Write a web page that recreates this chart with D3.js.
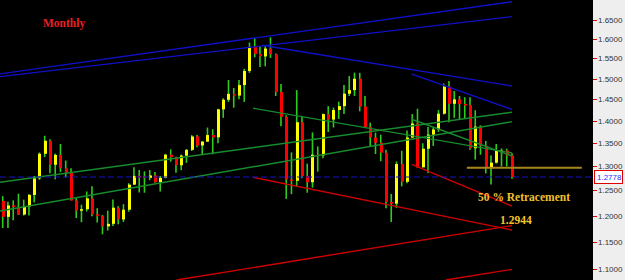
<!DOCTYPE html>
<html>
<head>
<meta charset="utf-8">
<script src="https://d3js.org/d3.v7.min.js"></script>
<style>
  html, body { margin: 0; padding: 0; background: #000; overflow: hidden; }
  #chart { width: 625px; height: 280px; }
</style>
</head>
<body>
<div id="chart"></div>
<script>
// EUR/USD monthly, Apr 2004 .. May 2012
var months = ["2004-04","2004-05","2004-06","2004-07","2004-08","2004-09","2004-10","2004-11","2004-12",
  "2005-01","2005-02","2005-03","2005-04","2005-05","2005-06","2005-07","2005-08","2005-09","2005-10","2005-11","2005-12",
  "2006-01","2006-02","2006-03","2006-04","2006-05","2006-06","2006-07","2006-08","2006-09","2006-10","2006-11","2006-12",
  "2007-01","2007-02","2007-03","2007-04","2007-05","2007-06","2007-07","2007-08","2007-09","2007-10","2007-11","2007-12",
  "2008-01","2008-02","2008-03","2008-04","2008-05","2008-06","2008-07","2008-08","2008-09","2008-10","2008-11","2008-12",
  "2009-01","2009-02","2009-03","2009-04","2009-05","2009-06","2009-07","2009-08","2009-09","2009-10","2009-11","2009-12",
  "2010-01","2010-02","2010-03","2010-04","2010-05","2010-06","2010-07","2010-08","2010-09","2010-10","2010-11","2010-12",
  "2011-01","2011-02","2011-03","2011-04","2011-05","2011-06","2011-07","2011-08","2011-09","2011-10","2011-11","2011-12",
  "2012-01","2012-02","2012-03","2012-04","2012-05"];

var open = [1.2290,1.1975,1.2200,1.2170,1.2020,1.2180,1.2410,1.2750,1.3270,
  1.3555,1.3035,1.3245,1.2960,1.2865,1.2300,1.2095,1.2125,1.2340,1.2025,1.1995,1.1790,
  1.1840,1.2155,1.1925,1.2115,1.2620,1.2800,1.2790,1.2760,1.2810,1.2670,1.2760,1.3250,
  1.3200,1.3025,1.3230,1.3355,1.3650,1.3450,1.3535,1.3680,1.3630,1.4265,1.4490,1.4630,
  1.4590,1.4840,1.5185,1.5790,1.5615,1.5550,1.5750,1.5605,1.4670,1.4095,1.2725,1.2700,
  1.3970,1.2800,1.2670,1.3250,1.3235,1.4155,1.4030,1.4250,1.4340,1.4635,1.4720,1.4995,
  1.4330,1.3865,1.3625,1.3510,1.3295,1.2270,1.2235,1.3050,1.2680,1.3625,1.3940,1.2980,
  1.3380,1.3690,1.3805,1.4165,1.4805,1.4395,1.4500,1.4390,1.4370,1.3390,1.3870,1.3445,
  1.2960,1.3080,1.3340,1.3340,1.3235];

var high = [1.2385,1.2275,1.2300,1.2435,1.2315,1.2430,1.2800,1.3300,1.3665,
  1.3590,1.3275,1.3485,1.3125,1.2960,1.2345,1.2215,1.2480,1.2585,1.2145,1.2010,1.2095,
  1.2320,1.2185,1.2225,1.2650,1.2980,1.2925,1.2895,1.2925,1.2880,1.2800,1.3270,1.3365,
  1.3205,1.3255,1.3370,1.3680,1.3680,1.3550,1.3850,1.3810,1.4280,1.4525,1.4965,1.4770,
  1.4965,1.5240,1.5905,1.6020,1.5810,1.5840,1.6040,1.5625,1.4865,1.4130,1.3300,1.4720,
  1.4090,1.3060,1.3740,1.3430,1.4170,1.4340,1.4305,1.4445,1.4845,1.5060,1.5145,1.5140,
  1.4580,1.3960,1.3735,1.3690,1.3355,1.2430,1.3105,1.3335,1.3785,1.4155,1.4280,1.3500,
  1.3860,1.3860,1.4250,1.4880,1.4940,1.4700,1.4580,1.4550,1.4550,1.4245,1.3900,1.3550,
  1.3235,1.3485,1.3385,1.3380,1.3280];

var low = [1.1760,1.1760,1.1910,1.2010,1.2000,1.2000,1.2260,1.2720,1.3200,
  1.2855,1.2730,1.2880,1.2770,1.2300,1.1950,1.1870,1.2080,1.1985,1.1865,1.1640,1.1710,
  1.1800,1.1830,1.1875,1.2075,1.2620,1.2460,1.2455,1.2710,1.2660,1.2480,1.2750,1.3100,
  1.2865,1.2920,1.3075,1.3330,1.3410,1.3260,1.3530,1.3260,1.3500,1.4070,1.4440,1.4305,
  1.4505,1.4440,1.5140,1.5530,1.5285,1.5300,1.5510,1.4580,1.3880,1.2330,1.2425,1.2580,
  1.2750,1.2455,1.2560,1.2890,1.3175,1.3750,1.3850,1.4045,1.4160,1.4580,1.4580,1.4220,
  1.3860,1.3435,1.3265,1.3110,1.2145,1.1875,1.2150,1.2585,1.2650,1.3625,1.2970,1.2980,
  1.2860,1.3440,1.3750,1.4145,1.3970,1.4070,1.4040,1.4050,1.3360,1.3145,1.3250,1.2855,
  1.2625,1.3060,1.3000,1.3000,1.2740];

var close = [1.1975,1.2200,1.2170,1.2020,1.2180,1.2410,1.2750,1.3270,1.3555,
  1.3035,1.3245,1.2960,1.2865,1.2300,1.2095,1.2125,1.2340,1.2025,1.1995,1.1790,1.1840,
  1.2155,1.1925,1.2115,1.2620,1.2800,1.2790,1.2760,1.2810,1.2670,1.2760,1.3250,1.3200,
  1.3025,1.3230,1.3355,1.3650,1.3450,1.3535,1.3680,1.3630,1.4265,1.4490,1.4630,1.4590,
  1.4840,1.5185,1.5790,1.5615,1.5550,1.5750,1.5605,1.4670,1.4095,1.2725,1.2700,1.3970,
  1.2800,1.2670,1.3250,1.3235,1.4155,1.4030,1.4250,1.4340,1.4635,1.4720,1.4995,1.4330,
  1.3865,1.3625,1.3510,1.3295,1.2270,1.2235,1.3050,1.2680,1.3625,1.3940,1.2980,1.3380,
  1.3690,1.3805,1.4165,1.4805,1.4395,1.4500,1.4390,1.4370,1.3390,1.3870,1.3445,1.2960,
  1.3080,1.3340,1.3340,1.3235,1.2778];

var priceTicks = [1.10,1.15,1.20,1.25,1.30,1.35,1.40,1.45,1.50,1.55,1.60,1.65];
var lastPrice = 1.2778;
var levelPrice = 1.2973;

// trend lines drawn on the chart: [bar index, price] pairs
var blueLines = [
  [[-0.6, 1.5112], [97, 1.6998]],
  [[-0.6, 1.5045], [97, 1.6590]],
  [[49.4, 1.5834], [97, 1.4819]],
  [[77.8, 1.5112], [97, 1.4262]]
];
var greenLines = [
  [[-0.6, 1.2668], [97, 1.4198]],
  [[-0.6, 1.2089], [97, 1.3982]],
  [[47.7, 1.4291], [97, 1.3287]],
  [[77.9, 1.4037], [97, 1.3222]]
];
var redLines = [
  [[47.7, 1.2771], [97, 1.1721]],
  [[77.9, 1.3045], [96.95, 1.2188]],
  [[33.1, 1.0804], [97, 1.1807]],
  [[84.4, 1.0804], [97, 1.0994]]
];

var width = 625, height = 280, plotRight = 593;

var svg = d3.select("#chart").append("svg")
  .attr("width", width).attr("height", height);

svg.append("rect").attr("width", width).attr("height", height).attr("fill", "#000");

var x = d3.scaleLinear().domain([0, 97]).range([2.7, 512]);
var y = d3.scaleLog().domain([1.1, 1.65]).range([269, 20]);

svg.append("clipPath").attr("id", "plotClip")
  .append("rect").attr("width", plotRight).attr("height", height);

var plot = svg.append("g").attr("clip-path", "url(#plotClip)");

var bars = months.map(function (m, i) {
  return { m: m, i: i, o: open[i], h: high[i], l: low[i], c: close[i] };
});

// candles
var candle = plot.append("g").selectAll("g")
  .data(bars)
  .enter().append("g");

candle.append("line")
  .attr("x1", function (d) { return x(d.i); })
  .attr("x2", function (d) { return x(d.i); })
  .attr("y1", function (d) { return y(d.h); })
  .attr("y2", function (d) { return y(d.l); })
  .attr("stroke", "#2fcc1c")
  .attr("stroke-width", 1.6);

candle.append("rect")
  .attr("x", function (d) { return Math.round(x(d.i)) - 1; })
  .attr("width", 3)
  .attr("y", function (d) { return y(Math.max(d.o, d.c)); })
  .attr("height", function (d) { return Math.max(1.5, Math.abs(y(d.o) - y(d.c))); })
  .attr("fill", function (d) { return d.c >= d.o ? "#ffff00" : "#ff0000"; });

// trend lines
function drawLines(set, color, w) {
  plot.append("g").selectAll("line")
    .data(set)
    .enter().append("line")
    .attr("x1", function (d) { return x(d[0][0]); })
    .attr("y1", function (d) { return y(d[0][1]); })
    .attr("x2", function (d) { return x(d[1][0]); })
    .attr("y2", function (d) { return y(d[1][1]); })
    .attr("stroke", color)
    .attr("stroke-width", w);
}
drawLines(blueLines, "#1010c8", 1.4);
drawLines(greenLines, "#178c2c", 1.4);
drawLines(redLines, "#d00000", 1.4);

// horizontal level
plot.append("line")
  .attr("x1", x(88.4)).attr("x2", x(110.3))
  .attr("y1", y(levelPrice)).attr("y2", y(levelPrice))
  .attr("stroke", "#a8861c").attr("stroke-width", 2);

// current price line
plot.append("line")
  .attr("x1", 0).attr("x2", plotRight)
  .attr("y1", y(lastPrice)).attr("y2", y(lastPrice))
  .attr("stroke", "#1414c8").attr("stroke-width", 1.2)
  .attr("stroke-dasharray", "6,3");

// text annotations
svg.append("text")
  .attr("x", 43).attr("y", 27)
  .attr("font-family", "Liberation Serif, serif").attr("font-weight", "bold")
  .attr("font-size", 11.5).attr("fill", "#e82020")
  .text("Monthly");

svg.append("text")
  .attr("x", 478).attr("y", 201)
  .attr("font-family", "Liberation Serif, serif").attr("font-weight", "bold")
  .attr("font-size", 11.5).attr("fill", "#f0c030")
  .text("50 % Retracement");

svg.append("text")
  .attr("x", 500).attr("y", 224)
  .attr("font-family", "Liberation Serif, serif").attr("font-weight", "bold")
  .attr("font-size", 11.5).attr("fill", "#f2c62a")
  .text("1.2944");

// price axis panel
var axis = svg.append("g");
axis.append("rect")
  .attr("x", plotRight).attr("width", width - plotRight).attr("height", height)
  .attr("fill", "#eeeeee");

var tick = axis.selectAll("g.tick")
  .data(priceTicks)
  .enter().append("g").attr("class", "tick")
  .attr("transform", function (d) { return "translate(0," + Math.round(y(d)) + ")"; });

tick.append("line")
  .attr("x1", plotRight).attr("x2", plotRight + 4)
  .attr("y1", 0.5).attr("y2", 0.5)
  .attr("stroke", "#e00000");

tick.append("text")
  .attr("x", plotRight + 5).attr("dy", "0.35em")
  .attr("font-family", "Liberation Sans, Arial, sans-serif").attr("font-size", 8)
  .attr("fill", "#333")
  .text(function (d) { return d.toFixed(4); });

var ly = y(lastPrice);
axis.append("rect")
  .attr("x", plotRight + 1.5).attr("y", Math.round(ly) - 6.5)
  .attr("width", 28).attr("height", 13)
  .attr("fill", "#fff").attr("stroke", "#e00000");

axis.append("text")
  .attr("x", plotRight + 4).attr("y", ly).attr("dy", "0.35em")
  .attr("font-family", "Liberation Sans, Arial, sans-serif").attr("font-size", 8)
  .attr("fill", "#3030ff")
  .text(lastPrice.toFixed(4));
</script>
</body>
</html>
